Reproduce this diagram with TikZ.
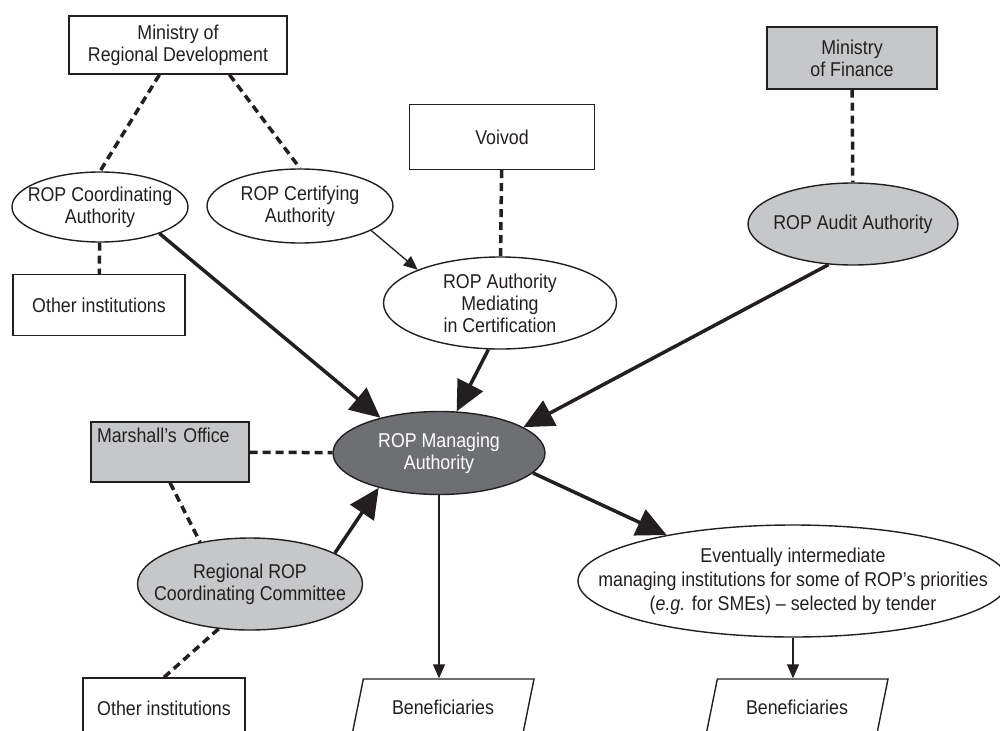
\documentclass[tikz,border=0pt]{standalone}
\usepackage{fontspec}
\setmainfont{Liberation Sans}[FakeStretch=0.89]
\usetikzlibrary{shapes.geometric, arrows.meta}
\definecolor{ink}{HTML}{231F20}
\definecolor{lgray}{HTML}{C6C7C9}
\definecolor{dgray}{HTML}{6E6F72}
\tikzstyle{box} = [rectangle, draw=ink, line width=1.4pt, fill=white, text=ink, align=center, inner sep=0pt]
\tikzstyle{oval} = [ellipse, draw=ink, line width=1.4pt, fill=white, text=ink, align=center, inner sep=-60pt]
\tikzstyle{para} = [trapezium, trapezium left angle=62, trapezium right angle=118, trapezium stretches body, draw=ink, line width=1.4pt, text=ink, minimum width=182pt, minimum height=56pt]
\tikzstyle{link} = [draw=ink, line width=3.5pt, dash pattern=on 8pt off 5pt]
\tikzstyle{arrow} = [draw=ink, line width=3.5pt, -{Triangle[length=30pt,width=28pt]}]
\tikzstyle{thinarrow} = [draw=ink, line width=1.3pt, -{Triangle[length=14pt,width=12pt]}]

\begin{document}
\begin{tikzpicture}[x=1pt, y=-1pt, font=\fontsize{20}{22}\selectfont]
	\useasboundingbox (0,0) rectangle (1000,730);
	% top row
	\node (mrd) [box, minimum width=218pt, minimum height=58pt] at (178,45) {Ministry of\\Regional Development};
	\node (voi) [box, minimum width=185pt, minimum height=65pt] at (502,137) {Voivod};
	\node (mof) [box, fill=lgray, minimum width=170pt, minimum height=62pt] at (852,58) {Ministry\\of Finance};
	% authorities
	\node (coord) [oval, minimum width=176pt, minimum height=70pt] at (100,207) {ROP Coordinating\\Authority};
	\node (cert) [oval, minimum width=186pt, minimum height=74pt] at (300,206) {ROP Certifying\\Authority};
	\node (med) [oval, minimum width=233pt, minimum height=92pt] at (500,303) {ROP Authority\\Mediating\\in Certification};
	\node (audit) [oval, fill=lgray, minimum width=210pt, minimum height=82pt] at (853,224) {ROP Audit Authority};
	\node (oth1) [box, minimum width=172pt, minimum height=61pt] at (99,305) {Other institutions};
	% middle
	\node (mng) [oval, fill=dgray, text=white, minimum width=212pt, minimum height=83pt] at (439,453) {ROP Managing\\Authority};
	\node (mar) [box, fill=lgray, minimum width=158pt, minimum height=60pt, text height=14pt, text depth=34pt, inner ysep=6pt, text width=146pt, align=left] at (170,452) {Marshall’s Office};
	\node (rcc) [oval, fill=lgray, minimum width=225pt, minimum height=92pt] at (250,584) {Regional ROP\\Coordinating Committee};
	\node (evt) [oval, minimum width=430pt, minimum height=112pt, font=\fontsize{20}{24}\selectfont] at (793,581) {Eventually intermediate\\managing institutions for some of ROP’s priorities\\(\textit{e.g.} for SMEs) – selected by tender};
	% bottom row
	\node (oth2) [box, minimum width=162pt, minimum height=60pt] at (164,708) {Other institutions};
	\node (ben1) [para] at (443,707) {Beneficiaries};
	\node (ben2) [para] at (797,707) {Beneficiaries};

	\draw [link] (mrd.-122) -- (coord.north);
	\draw [link] (mrd.-30) -- (cert.north);
	\draw [link] (voi) -- (med);
	\draw [link] (mof) -- (audit);
	\draw [link] (coord) -- (oth1);
	\draw [link] (mar) -- (mng);
	\draw [link] (mar.south) -- (rcc.140);
	\draw [link] (rcc.-125) -- (oth2.north);

	\draw [arrow] (coord.-24) -- (mng.149);
	\draw [arrow] (med.-104) -- (mng.67);
	\draw [arrow] (audit.-121) -- (mng.17);
	\draw [arrow] (rcc.20) -- (mng.-150);
	\draw [arrow] (mng.-12) -- (evt.160);
	\draw [thinarrow] (cert.-19) -- (med.158);
	\draw [thinarrow] (mng.south) -- (mng.south |- ben1.north);
	\draw [thinarrow] (evt.south) -- (evt.south |- ben2.north);
\end{tikzpicture}
\end{document}
